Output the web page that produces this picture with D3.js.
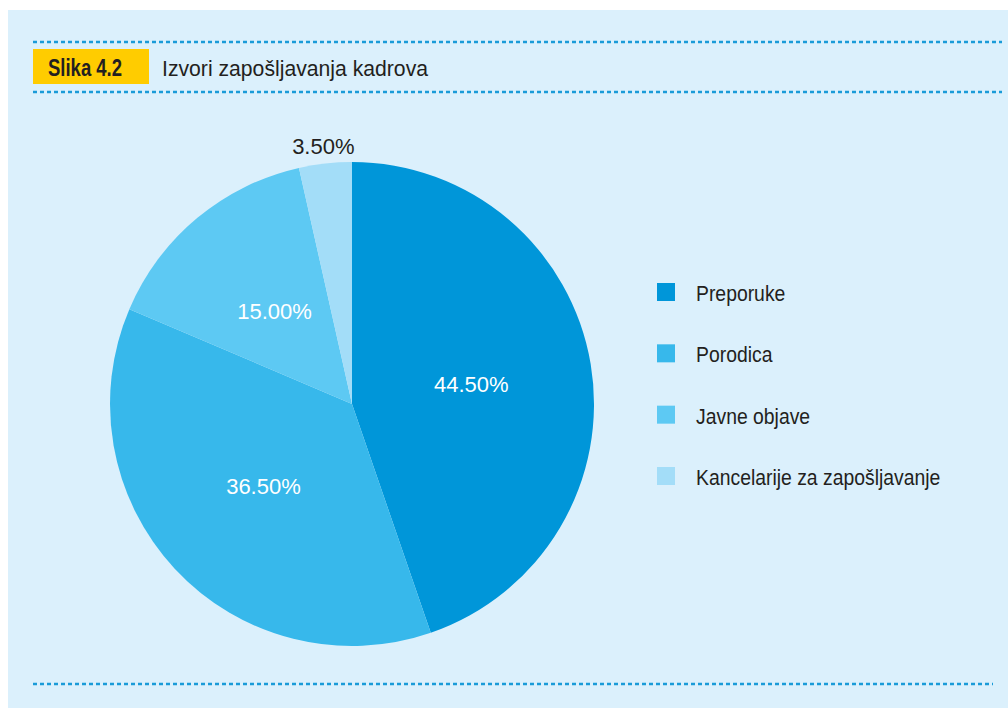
<!DOCTYPE html>
<html>
<head>
<meta charset="utf-8">
<script src="https://cdn.jsdelivr.net/npm/d3@7"></script>
<style>
  html, body { margin: 0; padding: 0; background: #ffffff; }
  svg { display: block; }
</style>
</head>
<body>
<svg id="chart" width="1008" height="708"></svg>
<script>
const categories = ["Preporuke", "Porodica", "Javne objave", "Kancelarije za zapošljavanje"];
const values = [44.5, 36.5, 15.0, 3.5];
const labels = ["44.50%", "36.50%", "15.00%", "3.50%"];
const colors = ["#0096d9", "#37b8eb", "#5dc9f3", "#a3ddf8"];
const figureTag = "Slika 4.2";
const figureTitle = "Izvori zapošljavanja kadrova";

const svg = d3.select("#chart");
const W = 1008, H = 708;
const FONT = "'Liberation Sans', Arial, sans-serif";
const INK = "#231f20";

// condense text horizontally to mimic a semi-condensed typeface
function condense(sel, ratio) {
  sel.each(function () {
    const w = this.getComputedTextLength();
    d3.select(this).attr("textLength", w * ratio).attr("lengthAdjust", "spacingAndGlyphs");
  });
}

// panel background
svg.append("rect").attr("x", 8).attr("y", 10).attr("width", W - 8).attr("height", H - 10).attr("fill", "#dbf0fc");

// dashed rules
const dashColor = "#1a9bd8";
[42, 92].forEach(y => {
  svg.append("line").attr("x1", 33).attr("x2", 1002).attr("y1", y).attr("y2", y)
    .attr("stroke", dashColor).attr("stroke-width", 2.5).attr("stroke-dasharray", "4,3");
});
svg.append("line").attr("x1", 33).attr("x2", 993).attr("y1", 684).attr("y2", 684)
  .attr("stroke", dashColor).attr("stroke-width", 2.5).attr("stroke-dasharray", "4,3");

// header
svg.append("rect").attr("x", 33).attr("y", 49).attr("width", 116).attr("height", 35).attr("fill", "#ffcc00");
svg.append("text").attr("x", 48).attr("y", 76)
  .attr("font-family", FONT).attr("font-weight", "bold")
  .attr("font-size", 24).attr("fill", INK)
  .attr("textLength", 74).attr("lengthAdjust", "spacingAndGlyphs")
  .text(figureTag);
svg.append("text").attr("x", 162).attr("y", 75.5)
  .attr("font-family", FONT)
  .attr("font-size", 22.5).attr("fill", INK)
  .attr("textLength", 266).attr("lengthAdjust", "spacingAndGlyphs")
  .text(figureTitle);

// pie
const cx = 352, cy = 404, R = 242;
const pie = d3.pie().sort(null).value(d => d)(values);
const arc = d3.arc().innerRadius(0).outerRadius(R);
const color = d3.scaleOrdinal().domain(categories).range(colors);
const g = svg.append("g").attr("transform", `translate(${cx},${cy})`);
g.selectAll("path").data(pie).join("path")
  .attr("d", arc)
  .attr("fill", (d, i) => color(categories[i]));

const inArc = d3.arc().innerRadius(R * 0.5).outerRadius(R * 0.5);
const outArc = d3.arc().innerRadius(R + 18).outerRadius(R + 18);
const total = d3.sum(values);
g.selectAll("text.lbl").data(pie).join("text")
  .attr("class", "lbl")
  .attr("transform", d => {
    const small = d.value / total < 0.05;
    const c = (small ? outArc : inArc).centroid(d);
    return `translate(${c[0]},${c[1]})`;
  })
  .attr("text-anchor", "middle")
  .attr("dy", "0.36em")
  .attr("font-family", FONT)
  .attr("font-size", 22)
  .attr("fill", d => d.value / total < 0.05 ? INK : "#ffffff")
  .text((d, i) => labels[i]);

// legend
const legendY = d3.scalePoint().domain(categories).range([292, 476]);
const lg = svg.append("g");
const items = lg.selectAll("g").data(categories).join("g")
  .attr("transform", d => `translate(657,${legendY(d)})`);
items.append("rect").attr("x", 0).attr("y", -9).attr("width", 18).attr("height", 18)
  .attr("fill", d => color(d));
items.append("text").attr("x", 39).attr("y", 9)
  .attr("font-family", FONT)
  .attr("font-size", 22).attr("fill", INK)
  .text(d => d)
  .call(condense, 0.88);
</script>
</body>
</html>
